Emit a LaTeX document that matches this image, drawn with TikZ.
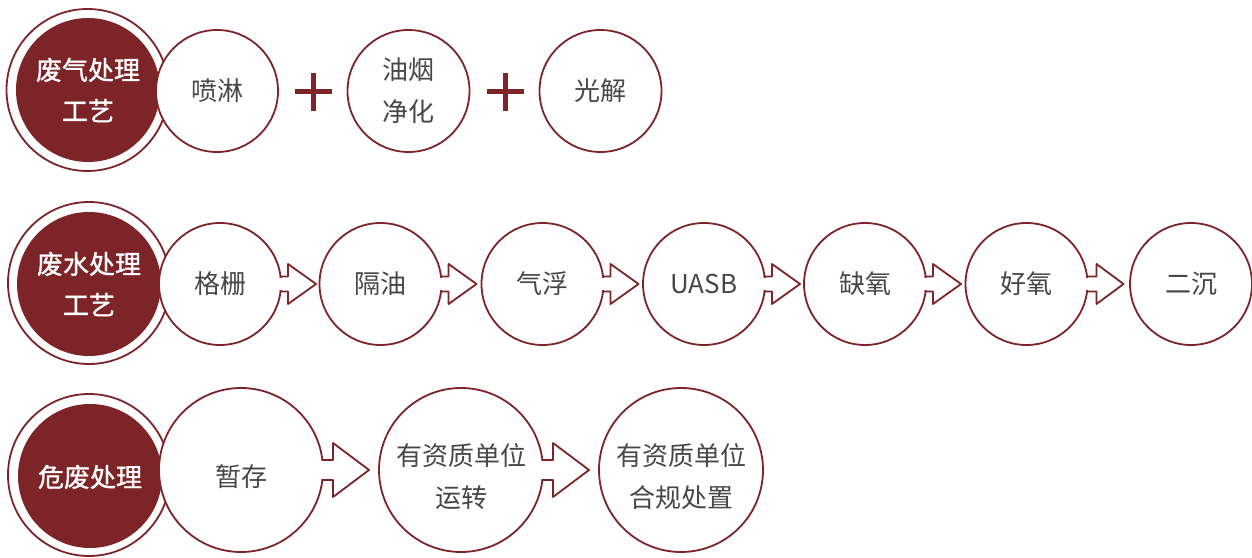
\documentclass[tikz,border=0pt]{standalone}
\usepackage{fontspec}
\newfontfamily\cjk{Noto Sans CJK SC}
\newfontfamily\cjkb[FakeBold=1.2]{Noto Sans CJK SC}
\usetikzlibrary{calc}
\definecolor{wine}{HTML}{7D2428}
\definecolor{txtgray}{HTML}{474747}
\tikzset{
  ring/.style={circle, draw=wine, line width=1.8pt, minimum size=162pt, inner sep=0pt, outer sep=0pt},
  core/.style={circle, fill=wine, minimum size=144pt, inner sep=0pt, outer sep=0pt, text=white,
    font=\cjkb\fontsize{26}{41}\selectfont, align=center},
  stage/.style={circle, draw=wine, fill=white, line width=1.8pt, minimum size=122pt, inner sep=0pt,
    outer sep=0pt, text=txtgray, font=\cjk\fontsize{26}{42}\selectfont, align=center},
  bigstage/.style={stage, minimum size=164pt},
  stagetext/.style={text=txtgray, font=\cjk\fontsize{26}{42}\selectfont, align=center, inner sep=0pt},
  coretext/.style={text=white, font=\cjkb\fontsize{26}{41}\selectfont, align=center, inner sep=0pt},
  flow/.style={draw=wine, line width=1.8pt, line join=round},
  plusbar/.style={draw=wine, line width=5pt},
}
% #1 source node, #2 stem half height, #3 stem length, #4 head half height, #5 tip distance
\newcommand\flowarrow[5]{%
  \fill[white] ($(#1.east)+(-4,-#2+1.2)$) rectangle ($(#1.east)+(#3,#2-1.2)$);
  \draw[flow] ($(#1.east)+(-1.5,#2)$) -- ($(#1.east)+(#3,#2)$) -- ($(#1.east)+(#3,#4)$)
    -- ($(#1.east)+(#5,0)$) -- ($(#1.east)+(#3,-#4)$) -- ($(#1.east)+(#3,-#2)$)
    -- ($(#1.east)+(-1.5,-#2)$);
}
\begin{document}
\begin{tikzpicture}[x=1pt,y=1pt]
\useasboundingbox (0,0) rectangle (1252,557);
\fill[white] (0,0) rectangle (1252,557);

% ---------- Row 1 ----------
\node[ring] (r1) at (87.5,467) {};
\node[core] (c1) at (88,467) {废气处理\\工艺};
\node[stage] (a1) at (217,466) {喷淋};
\coordinate (p1) at (313.5,465);
\draw[plusbar] ($(p1)+(-18.5,0)$) -- ($(p1)+(18.5,0)$);
\draw[plusbar] ($(p1)+(0,-19)$) -- ($(p1)+(0,19)$);
\node[stage] (a2) at (408.5,466) {油烟\\净化};
\coordinate (p2) at (505,465);
\draw[plusbar] ($(p2)+(-18.5,0)$) -- ($(p2)+(18.5,0)$);
\draw[plusbar] ($(p2)+(0,-19)$) -- ($(p2)+(0,19)$);
\node[stage] (a3) at (600.5,466) {光解};

% ---------- Row 2 ----------
\node[ring] (r2) at (89,274) {};
\node[core] (c2) at (89,273) {废水处理\\工艺};
\node[stage] (b1) at (220,273) {格栅};
\node[stage] (b2) at (380.5,273) {隔油};
\node[stage] (b3) at (542.5,273) {气浮};
\node[stage] (b4) at (704,273) {UASB};
\node[stage] (b5) at (865,273) {缺氧};
\node[stage] (b6) at (1026.5,273) {好氧};
\node[stage] (b7) at (1191,273) {二沉};
\flowarrow{b1}{7.5}{7}{20}{35}
\flowarrow{b2}{7.5}{7}{20}{35}
\flowarrow{b3}{7.5}{7}{20}{35}
\flowarrow{b4}{7.5}{7}{20}{35}
\flowarrow{b5}{7.5}{7}{20}{35}
\flowarrow{b6}{7.5}{9}{20}{36}

% ---------- Row 3 ----------
\node[ring] (r3) at (89,82) {};
\node[core] (c3) at (90,81) {};
\node[coretext] (c3t) at (90,80) {危废处理};
\node[bigstage] (d1) at (241,87) {};
\node[bigstage] (d2) at (461,87) {};
\node[bigstage] (d3) at (681,87) {};
\node[stagetext] (d1t) at (241,80) {暂存};
\node[stagetext] (d2t) at (461,80) {有资质单位\\运转};
\node[stagetext] (d3t) at (681,80) {有资质单位\\合规处置};
\flowarrow{d1}{10}{10}{27}{46}
\flowarrow{d2}{10}{10}{27}{46}
\end{tikzpicture}
\end{document}
